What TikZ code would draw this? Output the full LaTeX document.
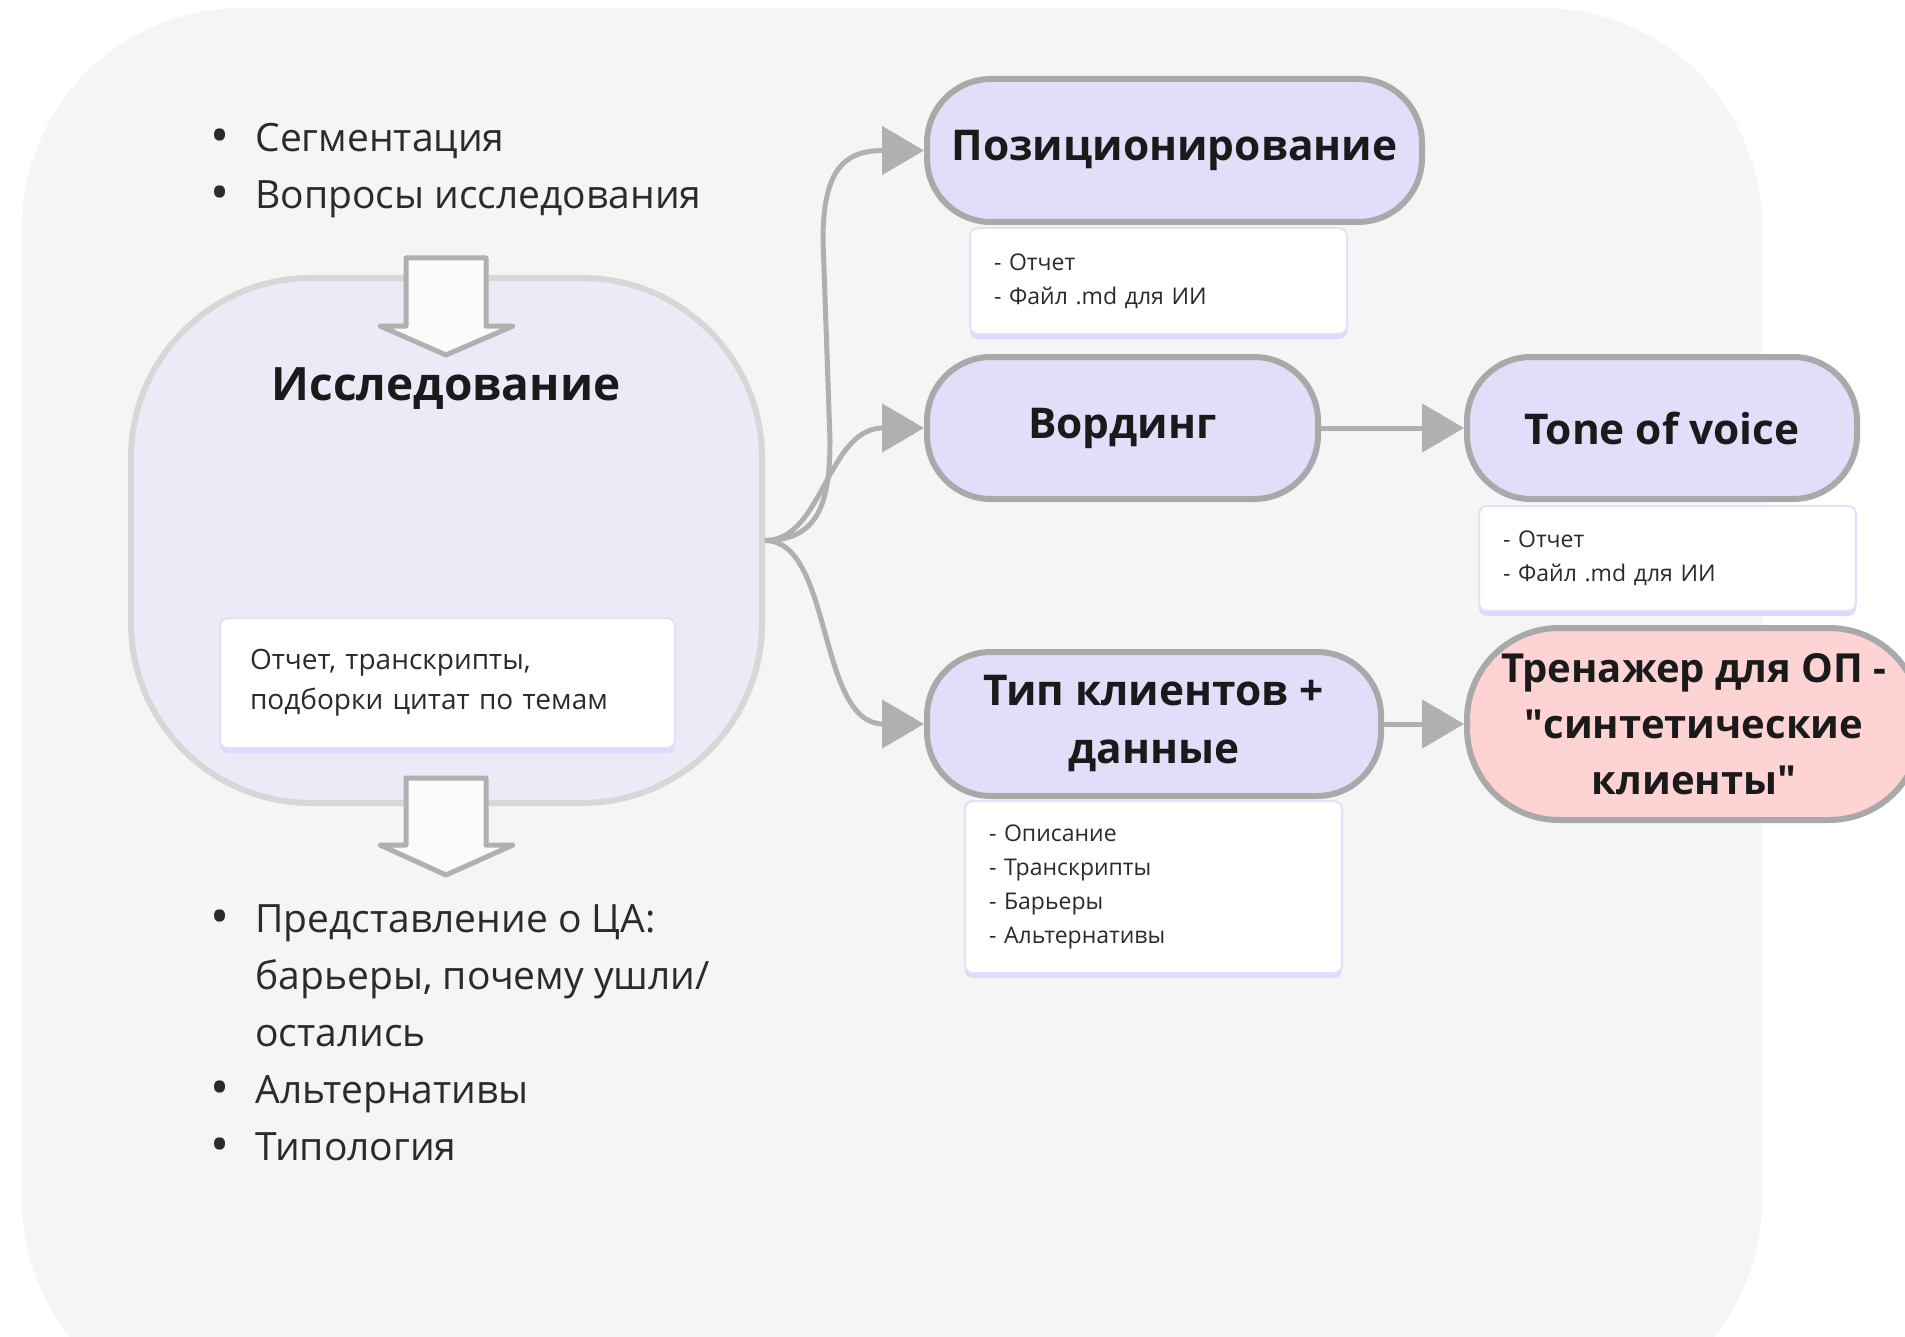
\documentclass[tikz,border=0pt]{standalone}
\usepackage{fontspec}
\setmainfont{Open Sans}
\usepackage{xcolor}
\usetikzlibrary{positioning,arrows.meta,shadows}

\definecolor{bggray}{HTML}{F5F5F5}
\definecolor{reslav}{HTML}{ECEAF6}
\definecolor{resline}{HTML}{D7D7D7}
\definecolor{steplav}{HTML}{E1DEFA}
\definecolor{stepline}{HTML}{A9A9A9}
\definecolor{trainpink}{HTML}{FDD3D3}
\definecolor{noteline}{HTML}{E2E0FB}
\definecolor{notelav}{HTML}{DDDAFC}
\definecolor{flowgray}{HTML}{B0B0B0}
\definecolor{inkdark}{HTML}{1A1A1A}
\definecolor{inktext}{HTML}{2B2B2B}

\tikzstyle{resbox} = [draw=resline, fill=reslav, line width=3pt,
    rounded corners=90pt, minimum width=315.5pt, minimum height=262.5pt]
\tikzstyle{stage} = [draw=stepline, fill=steplav, line width=3pt,
    rounded corners=32pt, inner sep=0pt, align=center, text=inkdark,
    font=\fontsize{21.2pt}{29pt}\selectfont\bfseries]
\tikzstyle{note} = [draw=noteline, fill=white, line width=1pt,
    rounded corners=4pt, general shadow={fill=notelav, shadow yshift=-2.5pt},
    anchor=north west, align=left, inner xsep=12pt, text=inktext,
    text width=164.5pt, font=\fontsize{11.5pt}{17pt}\selectfont]
\tikzstyle{flow} = [draw=flowgray, line width=2.5pt,
    -{Triangle[length=21pt,width=24pt]}]
\tikzstyle{hollow} = [draw=flowgray, fill=white!60!bggray, line width=2.5pt,
    line join=round]
\tikzstyle{bullets} = [anchor=base west, inner sep=0pt, text=inktext]

\renewcommand{\labelitemi}{\raisebox{-1pt}{\scalebox{1.3}{\textbullet}}}

\begin{document}
\begin{tikzpicture}[x=0.5pt,y=-0.5pt]
    \useasboundingbox (0,0) rectangle (1905,1337);
    \fill[white] (0,0) rectangle (1905,1337);
    \fill[bggray, rounded corners=110pt] (22,8) rectangle (1762,1420);

    % research block
    \node[resbox] (res) at (446.5,540.5) {};
    \node[text=inkdark, font=\fontsize{23pt}{28pt}\selectfont\bfseries]
        (restitle) at (446,389) {Исследование};
    \node[note, text width=197.5pt, inner xsep=15pt, minimum height=65pt,
        font=\fontsize{14pt}{20pt}\selectfont] (resnote) at (219,617)
        {Отчет, транскрипты,\\подборки цитат по темам};

    \draw[hollow] (406,258) -- (486,258) -- (486,326) -- (513,326) -- (446,355)
        -- (380,326) -- (406,326) -- cycle;
    \draw[hollow] (406,778) -- (486,778) -- (486,845) -- (513,845) -- (446,875)
        -- (380,845) -- (406,845) -- cycle;

    \node[bullets] (inputs) at (215,152) {
        \begin{minipage}[t]{300pt}
            \fontsize{19.5pt}{28.5pt}\selectfont
            \setlength{\leftmargini}{20pt}\setlength{\labelsep}{13pt}
            \begin{itemize}
                \setlength\itemsep{0em}\setlength\parskip{0em}
                \item Сегментация
                \item Вопросы исследования
            \end{itemize}
        \end{minipage}
    };
    \node[bullets] (outputs) at (215,932) {
        \begin{minipage}[t]{300pt}
            \fontsize{19.5pt}{28.5pt}\selectfont
            \setlength{\leftmargini}{20pt}\setlength{\labelsep}{13pt}
            \begin{itemize}
                \setlength\itemsep{0em}\setlength\parskip{0em}
                \item Представление о ЦА:\\барьеры, почему ушли/\\остались
                \item Альтернативы
                \item Типология
            \end{itemize}
        \end{minipage}
    };

    % results
    \node[stage, minimum width=247.5pt, minimum height=71.5pt] (pos)
        at (1174.5,150.5) {Позиционирование};
    \node[stage, minimum width=195.5pt, minimum height=71pt] (word)
        at (1122.5,428) {Вординг};
    \node[stage, minimum width=195pt, minimum height=71pt] (tone)
        at (1662,428) {Tone of voice};
    \node[stage, minimum width=227pt, minimum height=72pt] (typ)
        at (1154,724) {Тип клиентов +\\данные};
    \node[stage, fill=trainpink, rounded corners=46pt, minimum width=227pt,
        minimum height=96pt, font=\fontsize{20pt}{28pt}\selectfont\bfseries]
        (trainer) at (1694,724)
        {Тренажер для ОП -\\\textquotedbl синтетические\\клиенты\textquotedbl};

    \node[note, minimum height=53pt, below right=1pt and 22.5pt of pos.south west]
        (posnote) {- Отчет\\- Файл .md для ИИ};
    \node[note, minimum height=52.5pt, below right=1.5pt and 7pt of tone.south west]
        (tonenote) {- Отчет\\- Файл .md для ИИ};
    \node[note, minimum height=86pt, below right=0.5pt and 20pt of typ.south west]
        (typnote) {- Описание\\- Транскрипты\\- Барьеры\\- Альтернативы};

    % connectors
    \draw[flow] (res.east) .. controls +(55,0) and +(0,60) .. (830,440)
        -- (823,240) .. controls +(0,-70) and +(-80,0) .. (pos.west);
    \draw[flow] (res.east) .. controls +(58,0) and +(-97,0) .. (word.west);
    \draw[flow] (res.east) .. controls +(68,0) and +(-107,0) .. (typ.west);
    \draw[flow] (word) -- (tone);
    \draw[flow] (typ) -- (trainer);
\end{tikzpicture}
\end{document}
